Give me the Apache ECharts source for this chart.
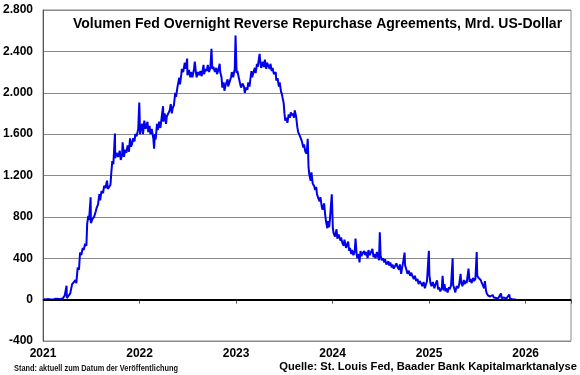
<!DOCTYPE html>
<html><head><meta charset="utf-8">
<script src="https://cdn.jsdelivr.net/npm/echarts@6/dist/echarts.min.js"></script>
<style>html,body{margin:0;padding:0;background:#fff}#c{width:580px;height:375px}</style>
</head><body><div id="c"></div>
<script>
const titleText = 'Volumen Fed Overnight Reverse Repurchase Agreements, Mrd. US-Dollar';
const noteLeft = 'Stand: aktuell zum Datum der Veröffentlichung';
const noteRight = 'Quelle: St. Louis Fed, Baader Bank Kapitalmarktanalyse';
const yearTicks = [2021, 2022, 2023, 2024, 2025, 2026];
const yTicks = [-400, 0, 400, 800, 1200, 1600, 2000, 2400, 2800];

const d2021 = ['2021-01-04','2021-01-12','2021-01-20','2021-01-28','2021-02-03','2021-02-10','2021-02-18','2021-02-25','2021-03-03','2021-03-10','2021-03-17','2021-03-24','2021-03-31',
'2021-04-01','2021-04-07','2021-04-14','2021-04-21','2021-04-28','2021-05-03','2021-05-07','2021-05-12','2021-05-17','2021-05-21','2021-05-26','2021-05-31',
'2021-06-04','2021-06-09','2021-06-14','2021-06-17','2021-06-21','2021-06-24','2021-06-30','2021-07-01','2021-07-07','2021-07-13','2021-07-19','2021-07-23','2021-07-28',
'2021-08-02','2021-08-05','2021-08-10','2021-08-16','2021-08-20','2021-08-25','2021-08-31','2021-09-03','2021-09-08','2021-09-13','2021-09-16','2021-09-20','2021-09-24','2021-09-30',
'2021-10-01','2021-10-06','2021-10-12','2021-10-18','2021-10-22','2021-10-27','2021-10-29','2021-11-03','2021-11-08','2021-11-12','2021-11-17','2021-11-22','2021-11-26','2021-11-30',
'2021-12-03','2021-12-08','2021-12-13','2021-12-16','2021-12-21','2021-12-27','2021-12-31'];
const v2021 = [4,1,6,2,5,1,8,3,5,2,12,40,135,
15,5,60,150,170,190,160,310,290,455,430,500,
480,540,520,735,810,770,990,740,780,800,850,890,920,
1020,960,1050,1030,1100,1080,1150,1070,1080,1110,1220,1340,1310,1605,
1370,1420,1380,1440,1350,1400,1520,1380,1450,1420,1490,1430,1560,1480,
1500,1560,1530,1600,1580,1650,1905];

const d2022 = ['2022-01-03','2022-01-06','2022-01-11','2022-01-14','2022-01-19','2022-01-24','2022-01-31','2022-02-03','2022-02-08','2022-02-11','2022-02-16','2022-02-22','2022-02-25','2022-02-28',
'2022-03-03','2022-03-08','2022-03-11','2022-03-16','2022-03-21','2022-03-25','2022-03-31','2022-04-01','2022-04-06','2022-04-11','2022-04-14','2022-04-20','2022-04-25','2022-04-29',
'2022-05-03','2022-05-06','2022-05-11','2022-05-16','2022-05-19','2022-05-24','2022-05-31','2022-06-03','2022-06-08','2022-06-10','2022-06-15','2022-06-21','2022-06-24','2022-06-30',
'2022-07-01','2022-07-07','2022-07-12','2022-07-15','2022-07-20','2022-07-26','2022-07-29','2022-08-02','2022-08-05','2022-08-10','2022-08-15','2022-08-19','2022-08-24','2022-08-31',
'2022-09-02','2022-09-07','2022-09-12','2022-09-16','2022-09-21','2022-09-26','2022-09-30','2022-10-03','2022-10-07','2022-10-13','2022-10-18','2022-10-21','2022-10-26','2022-10-31',
'2022-11-02','2022-11-07','2022-11-10','2022-11-15','2022-11-18','2022-11-23','2022-11-30','2022-12-02','2022-12-07','2022-12-13','2022-12-16','2022-12-21','2022-12-27','2022-12-30'];
const v2022 = [1600,1650,1700,1600,1730,1650,1720,1620,1680,1600,1650,1560,1460,1600,
1550,1700,1640,1720,1660,1750,1870,1720,1800,1700,1770,1760,1830,1890,
1800,1850,1880,2000,1960,2050,2145,2080,2180,2230,2200,2290,2230,2330,
2170,2220,2150,2200,2150,2230,2300,2200,2150,2200,2170,2210,2160,2270,
2180,2230,2210,2270,2200,2250,2425,2230,2250,2200,2240,2180,2220,2280,
2200,2150,2050,2100,2020,2080,2130,2060,2100,2150,2200,2150,2230,2554];

const d2023 = ['2023-01-03','2023-01-06','2023-01-11','2023-01-17','2023-01-20','2023-01-25','2023-01-31','2023-02-03','2023-02-08','2023-02-13','2023-02-16','2023-02-21','2023-02-24','2023-02-28',
'2023-03-03','2023-03-08','2023-03-13','2023-03-16','2023-03-21','2023-03-24','2023-03-31','2023-04-03','2023-04-06','2023-04-12','2023-04-17','2023-04-20','2023-04-25','2023-04-28',
'2023-05-03','2023-05-08','2023-05-11','2023-05-16','2023-05-19','2023-05-24','2023-05-31','2023-06-02','2023-06-07','2023-06-12','2023-06-15','2023-06-20','2023-06-23','2023-06-26','2023-06-30',
'2023-07-03','2023-07-06','2023-07-11','2023-07-14','2023-07-19','2023-07-24','2023-07-27','2023-07-31','2023-08-03','2023-08-08','2023-08-11','2023-08-16','2023-08-21','2023-08-24','2023-08-29',
'2023-09-01','2023-09-07','2023-09-12','2023-09-15','2023-09-20','2023-09-25','2023-09-29','2023-10-02','2023-10-05','2023-10-10','2023-10-13','2023-10-18','2023-10-23','2023-10-27','2023-10-31',
'2023-11-03','2023-11-08','2023-11-13','2023-11-16','2023-11-21','2023-11-24','2023-11-30','2023-12-04','2023-12-07','2023-12-12','2023-12-15','2023-12-19','2023-12-22','2023-12-29'];
const v2023 = [2190,2210,2150,2080,2050,2090,2060,2000,2050,2030,2100,2060,2130,2210,
2150,2200,2240,2190,2280,2250,2375,2290,2240,2300,2250,2320,2230,2290,
2260,2230,2280,2210,2240,2180,2200,2120,2140,2060,2100,2010,1990,1950,1900,
1800,1730,1760,1710,1790,1760,1810,1780,1800,1760,1830,1770,1660,1620,1590,
1570,1530,1470,1500,1430,1410,1555,1280,1210,1150,1230,1120,1100,1060,1090,
1020,980,950,990,900,870,930,820,760,690,760,700,780,1018];

const d2024 = ['2024-01-02','2024-01-05','2024-01-10','2024-01-16','2024-01-19','2024-01-24','2024-01-31','2024-02-02','2024-02-07','2024-02-12','2024-02-15','2024-02-21','2024-02-26','2024-02-29',
'2024-03-04','2024-03-07','2024-03-12','2024-03-15','2024-03-20','2024-03-25','2024-03-28','2024-04-01','2024-04-04','2024-04-09','2024-04-12','2024-04-16','2024-04-19','2024-04-24','2024-04-30',
'2024-05-03','2024-05-08','2024-05-13','2024-05-16','2024-05-21','2024-05-24','2024-05-31','2024-06-04','2024-06-07','2024-06-12','2024-06-17','2024-06-21','2024-06-25','2024-06-28',
'2024-07-01','2024-07-05','2024-07-10','2024-07-15','2024-07-18','2024-07-23','2024-07-31','2024-08-02','2024-08-07','2024-08-12','2024-08-15','2024-08-20','2024-08-26','2024-08-30',
'2024-09-04','2024-09-09','2024-09-12','2024-09-17','2024-09-20','2024-09-25','2024-09-30','2024-10-02','2024-10-07','2024-10-11','2024-10-16','2024-10-21','2024-10-25','2024-10-31',
'2024-11-04','2024-11-08','2024-11-13','2024-11-18','2024-11-22','2024-11-26','2024-11-29','2024-12-03','2024-12-06','2024-12-11','2024-12-16','2024-12-19','2024-12-24','2024-12-31'];
const v2024 = [690,640,610,680,590,630,570,600,550,520,580,500,540,560,
470,500,440,480,430,470,590,440,400,440,360,470,420,450,470,
430,460,400,480,430,450,490,410,440,400,460,420,380,650,
430,380,400,360,390,340,370,330,360,310,340,300,330,350,
310,290,340,250,300,370,455,330,290,250,280,230,260,220,
200,230,180,200,150,180,170,150,130,170,110,140,180,473];

const d2025 = ['2025-01-02','2025-01-06','2025-01-10','2025-01-15','2025-01-21','2025-01-24','2025-01-31','2025-02-04','2025-02-07','2025-02-12','2025-02-18','2025-02-21','2025-02-25','2025-02-28',
'2025-03-04','2025-03-07','2025-03-12','2025-03-17','2025-03-20','2025-03-25','2025-03-31','2025-04-02','2025-04-07','2025-04-10','2025-04-15','2025-04-21','2025-04-25','2025-04-30',
'2025-05-02','2025-05-07','2025-05-12','2025-05-15','2025-05-20','2025-05-23','2025-05-30','2025-06-03','2025-06-06','2025-06-11','2025-06-16','2025-06-20','2025-06-25','2025-06-30',
'2025-07-02','2025-07-07','2025-07-10','2025-07-15','2025-07-18','2025-07-23','2025-07-28','2025-07-31','2025-08-04','2025-08-07','2025-08-12','2025-08-15','2025-08-20','2025-08-25','2025-08-29',
'2025-09-03','2025-09-08','2025-09-11','2025-09-16','2025-09-19','2025-09-24','2025-09-30','2025-10-02','2025-10-07','2025-10-10','2025-10-15','2025-10-20','2025-10-24','2025-10-31',
'2025-11-03','2025-11-07','2025-11-12','2025-11-17','2025-11-21','2025-11-25'];
const v2025 = [240,160,130,170,110,140,185,100,120,80,110,230,90,150,
80,110,70,120,100,140,400,140,100,70,130,110,150,250,
170,130,190,150,180,160,300,170,200,160,210,180,200,460,
230,210,220,190,170,140,110,180,90,60,40,55,30,25,45,
20,30,15,25,10,35,60,15,8,20,5,10,15,50,
10,5,3,6,2,4];

const allDates = [].concat(d2021, d2022, d2023, d2024, d2025);
const allValues = [].concat(v2021, v2022, v2023, v2024, v2025);

function toYear(s) {
  const p = s.split('-').map(Number);
  const t = Date.UTC(p[0], p[1] - 1, p[2]);
  const a = Date.UTC(p[0], 0, 1), b = Date.UTC(p[0] + 1, 0, 1);
  return p[0] + (t - a) / (b - a);
}
const seriesData = allDates.map((d, i) => [toYear(d), allValues[i]]);

function deNum(v) {
  const s = String(Math.abs(v));
  const out = s.replace(/\B(?=(\d{3})+(?!\d))/g, '.');
  return (v < 0 ? '-' : '') + out;
}

const FONT = 'Arial, "Liberation Sans", sans-serif';
const chart = echarts.init(document.getElementById('c'), null, {renderer: 'canvas'});
chart.setOption({
  animation: false,
  backgroundColor: '#ffffff',
  title: {
    text: titleText, left: 68, top: 12,
    textStyle: {fontFamily: FONT, fontSize: 14, fontWeight: 'bold', color: '#000'}
  },
  grid: {left: 43, right: 9, top: 10, bottom: 34, show: true, borderColor: '#8a8a8a', borderWidth: 1, backgroundColor: '#fff'},
  xAxis: {
    type: 'value', min: yearTicks[0], max: 2026.47, interval: 1,
    axisLine: {show: true, lineStyle: {color: '#555', width: 1}},
    axisTick: {show: true, length: 4, inside: false, lineStyle: {color: '#555'}},
    axisLabel: {
      margin: 7, fontFamily: FONT, fontSize: 12, fontWeight: 'bold', color: '#000',
      formatter: v => (yearTicks.indexOf(Math.round(v)) >= 0 && Math.abs(v - Math.round(v)) < 1e-6) ? String(Math.round(v)) : ''
    },
    splitLine: {show: false}
  },
  yAxis: {
    type: 'value', min: yTicks[0], max: yTicks[yTicks.length - 1], interval: 400,
    axisLine: {show: true, lineStyle: {color: '#555', width: 1}},
    axisTick: {show: false},
    axisLabel: {margin: 10, fontFamily: FONT, fontSize: 12, fontWeight: 'bold', color: '#000', formatter: v => deNum(v)},
    splitLine: {show: true, lineStyle: {color: '#8a8a8a', width: 1}}
  },
  graphic: [
    {type: 'text', x: 14, y: 364, scaleX: 0.82, style: {text: noteLeft, fontFamily: FONT, fontSize: 9, fontWeight: 'bold', fill: '#111'}},
    {type: 'text', right: 3, top: 361, style: {text: noteRight, fontFamily: FONT, fontSize: 11.2, fontWeight: 'bold', fill: '#000'}}
  ],
  series: [{
    type: 'line', data: seriesData, showSymbol: false, symbol: 'none',
    lineStyle: {color: '#0000ee', width: 2}, z: 3,
    markLine: {
      silent: true, symbol: 'none', label: {show: false},
      lineStyle: {color: '#000', width: 2, type: 'solid'},
      data: [{yAxis: 0}]
    }
  }]
});
</script></body></html>
